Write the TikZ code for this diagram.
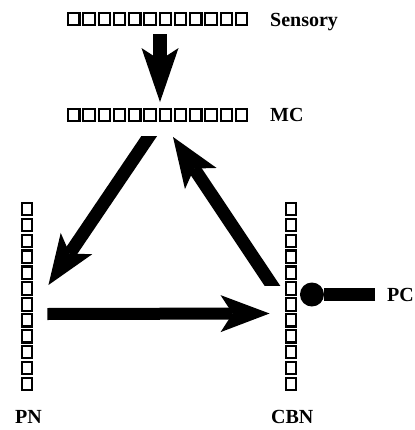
\documentclass[tikz,border=0pt]{standalone}
\usepackage{fontspec}
\setmainfont{Liberation Serif}
\usetikzlibrary{arrows.meta,calc}
\begin{document}
\begin{tikzpicture}[x=1pt,y=-1pt,
  lbl/.style={font=\fontsize{20}{20}\selectfont\bfseries, anchor=base west, inner sep=0pt},
  layer/.style={inner sep=0pt, draw=none},
  cell/.style={draw=black, line width=2.2pt, fill=white},
  bigarrow/.style={line width=14pt, -{Stealth[length=50pt,width=38pt,inset=12pt,line width=0pt]}},
]
\useasboundingbox[fill=white] (0,0) rectangle (414,430);

% layers (rows / columns of cells)
\node[layer, minimum width=183pt, minimum height=13.5pt] (sensory) at (158.5,19) {};
\node[layer, minimum width=183pt, minimum height=13.5pt] (mc) at (158.5,115) {};
\node[layer, minimum width=12.5pt, minimum height=191pt] (pn) at (27,297.5) {};
\node[layer, minimum width=12.5pt, minimum height=191pt] (cbn) at (291,297.5) {};

\foreach \i in {0,...,11} {
  \draw[cell] (68.1+15.25*\i, 13.35) rectangle ++(11.3,11.3);
  \draw[cell] (68.1+15.25*\i, 109.35) rectangle ++(11.3,11.3);
  \draw[cell] (21.85, 202.85+15.9*\i) rectangle ++(10.3,12.4);
  \draw[cell] (285.85, 202.85+15.9*\i) rectangle ++(10.3,12.4);
}

% labels
\node[lbl] (lsens) at (270,26.5) {Sensory};
\node[lbl] (lmc) at (270,122) {MC};
\node[lbl] (lpn) at (15,423) {PN};
\node[lbl] (lcbn) at (271,423) {CBN};
\node[lbl] (pc) at (387,301) {PC};

% Sensory -> MC
\draw[line width=14pt, -{Stealth[length=54pt,width=37pt,inset=12pt,line width=0pt]}]
  ($(sensory.south)+(1.5,8.5)$) -- ($(mc.north)+(1.5,-6)$);

% MC -> PN
\begin{scope}
  \clip (0,137) rectangle (414,430);
  \draw[bigarrow, line width=13pt] ($(mc.south)+(-6.5,10)$) -- ($(pn.east)+(15,-12.5)$);
\end{scope}

% CBN -> MC
\begin{scope}
  \clip (0,0) rectangle (414,285);
  \draw[bigarrow, line width=13pt] ($(cbn.west)+(-9,-7)$) -- ($(mc.south)+(14.5,15)$);
\end{scope}

% PN -> CBN
\draw[line width=12pt, -{Stealth[length=49pt,width=37pt,inset=12pt,line width=0pt]}]
  ($(pn.east)+(14,16.5)$) -- ($(cbn.west)+(-15,16)$);

% PC -> CBN (ball terminal)
\draw[line width=13pt, -{Circle[length=24pt,width=24pt,line width=0pt]}]
  ($(pc.base west)+(-12,-6.5)$) -- ($(cbn.east)+(2.5,-3)$);
\end{tikzpicture}
\end{document}
